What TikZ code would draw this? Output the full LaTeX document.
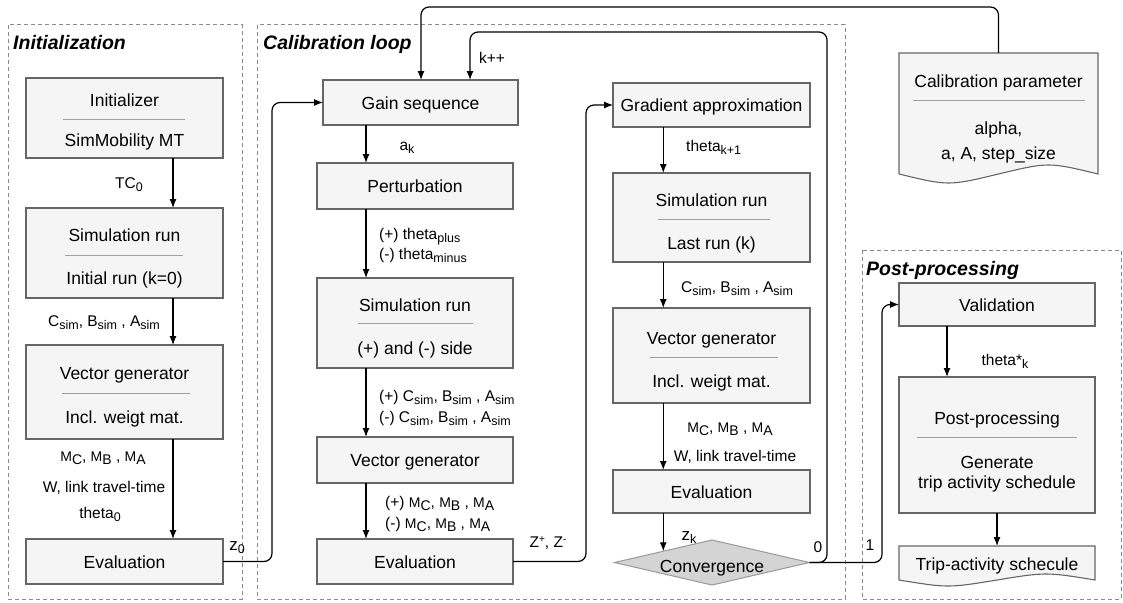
\documentclass[tikz,border=0pt]{standalone}
\usepackage{fontspec}
\setmainfont{Liberation Sans}
\usetikzlibrary{arrows.meta,shapes.geometric,calc}
\definecolor{boxfill}{HTML}{F5F5F5}
\definecolor{boxdraw}{HTML}{666666}
\definecolor{divc}{HTML}{A0A0A0}
\definecolor{dashc}{HTML}{8A8A8A}
\definecolor{diafill}{HTML}{D4D4D4}
\definecolor{diadraw}{HTML}{999999}
\newcommand\sbx[1]{\raisebox{-3pt}{\fontsize{12.5}{12.5}\selectfont #1}}
\newcommand\msb[2]{{\fontsize{14}{14}\selectfont #1\raisebox{-3pt}{#2}}}
\newcommand\spx[1]{\raisebox{5pt}{\fontsize{10}{10}\selectfont #1}}
\begin{document}
\begin{tikzpicture}[x=1pt,y=-1pt,
 box/.style={draw=boxdraw, fill=boxfill, line width=1.1pt, rectangle, inner sep=0pt, outer sep=0pt, anchor=north west},
 ghost/.style={rectangle, inner sep=0pt, outer sep=0pt, anchor=north west},
 docshape/.style={draw=boxdraw, fill=boxfill, line width=1.1pt},
 txt/.style={font=\fontsize{17.5}{21}\selectfont, inner sep=0pt, text height=12.5pt, text depth=0pt},
 lbl/.style={font=\fontsize{15.5}{18}\selectfont, inner sep=0pt, text height=11pt, text depth=0pt},
 ttl/.style={font=\fontsize{19.5}{23}\selectfont\bfseries\itshape, inner sep=0pt, anchor=base west},
 arr/.style={-{Latex[length=9pt,width=7pt]}, line width=1.2pt, rounded corners=8pt},
 dv/.style={draw=divc, line width=1pt},
 grp/.style={draw=dashc, line width=1pt, dash pattern=on 4pt off 3pt}]

\useasboundingbox (0,0) rectangle (1123,602);

% groups
\draw[grp] (8,25) rectangle (242,599);
\draw[grp] (257,25) rectangle (845,599);
\draw[grp] (862,250) rectangle (1121,599);
\node[ttl] (t1) at (13,50) {Initialization};
\node[ttl] (t2) at (263,50) {Calibration loop};
\node[ttl] (t3) at (866,275) {Post-processing};

% left column
\node[box, minimum width=197, minimum height=80] (init) at (26,78) {};
\node[txt] (init1) at (124.5,100) {Initializer};
\draw[dv] (63,119) -- (185,119);
\node[txt] (init2) at (124.5,140) {SimMobility MT};

\node[box, minimum width=197, minimum height=90] (sim0) at (26,208) {};
\node[txt] (sim01) at (124.5,235) {Simulation run};
\draw[dv] (65,255) -- (183,255);
\node[txt] (sim02) at (124.5,278) {Initial run (k=0)};

\node[box, minimum width=197, minimum height=94] (vec0) at (26,345) {};
\node[txt] (vec01) at (124.5,373) {Vector generator};
\draw[dv] (62,393) -- (190,393);
\node[txt] (vec02) at (124.5,417) {Incl. weigt mat.};

\node[box, minimum width=197, minimum height=45] (eval0) at (26,539) {};
\node[txt] (eval01) at (124.5,562) {Evaluation};

% middle column
\node[box, minimum width=195, minimum height=45] (gain) at (323,80) {};
\node[txt] (gain1) at (420.5,103) {Gain sequence};

\node[box, minimum width=196, minimum height=46] (pert) at (317,163) {};
\node[txt] (pert1) at (415,186) {Perturbation};

\node[box, minimum width=196, minimum height=90] (sim1) at (317,278) {};
\node[txt] (sim11) at (415,305) {Simulation run};
\draw[dv] (358,323) -- (473,323);
\node[txt] (sim12) at (415,348) {(+) and (-) side};

\node[box, minimum width=196, minimum height=46] (vec1) at (317,437) {};
\node[txt] (vec11) at (415,460) {Vector generator};

\node[box, minimum width=196, minimum height=45] (eval1) at (317,539) {};
\node[txt] (eval11) at (415,562) {Evaluation};

% right column
\node[box, minimum width=197, minimum height=44] (grad) at (613,83) {};
\node[txt] (grad1) at (711.5,105) {Gradient approximation};

\node[box, minimum width=197, minimum height=89] (sim2) at (613,173) {};
\node[txt] (sim21) at (711.5,200) {Simulation run};
\draw[dv] (658,219) -- (770,219);
\node[txt] (sim22) at (711.5,243) {Last run (k)};

\node[box, minimum width=197, minimum height=95] (vec2) at (613,308) {};
\node[txt] (vec21) at (711.5,338) {Vector generator};
\draw[dv] (650,357) -- (778,357);
\node[txt] (vec22) at (711.5,381) {Incl. weigt mat.};

\node[box, minimum width=197, minimum height=43] (eval2) at (613,470) {};
\node[txt] (eval21) at (711.5,492) {Evaluation};

\node[diamond, aspect=4.33, draw=diadraw, fill=diafill, line width=1pt, minimum width=195, minimum height=45, inner sep=0pt, outer sep=0pt] (conv) at (712,562.5) {};
\node[txt] (conv1) at (712,566) {Convergence};

% calibration parameter (document)
\node[ghost, minimum width=199, minimum height=121] (calib) at (899,53) {};
\draw[docshape] (899,53) -- (1098,53) -- (1098,174) .. controls (1048.5,162) .. (998.5,174) .. controls (948.5,186) .. (899,174) -- cycle;
\node[txt] (calib1) at (998.5,81) {Calibration parameter};
\draw[dv] (913,100) -- (1085,100);
\node[txt] (calib2) at (998.5,128) {alpha,};
\node[txt] (calib3) at (998.5,153) {a, A, step\_size};

% post-processing column
\node[box, minimum width=196, minimum height=43] (valid) at (899,283) {};
\node[txt] (valid1) at (997,305) {Validation};

\node[box, minimum width=196, minimum height=136] (post) at (899,377) {};
\node[txt] (post1) at (997,418) {Post-processing};
\draw[dv] (917,437) -- (1077,437);
\node[txt] (post2) at (997,462) {Generate};
\node[txt] (post3) at (997,482) {trip activity schedule};

\node[ghost, minimum width=196, minimum height=34] (trip) at (899,546) {};
\draw[docshape] (899,546) -- (1095,546) -- (1095,580) .. controls (1046,572) .. (997,580) .. controls (948,588) .. (899,580) -- cycle;
\node[txt] (trip1) at (997,564) {Trip-activity schecule};

% helper coordinates
\coordinate (lx) at (173,0);
\coordinate (mx) at (366,0);
\coordinate (cm) at ($(conv.west)!0.5!(conv.north)$);
\coordinate (px) at (947,0);
\coordinate (l1) at (272,0);
\coordinate (l2) at (586,0);
\coordinate (rr) at (827,0);
\coordinate (kx) at (470,32);
\coordinate (tx) at (421,7);
\coordinate (vx) at (882,0);

% vertical arrows
\draw[arr] (init.south -| lx) -- (sim0.north -| lx);
\draw[arr] (sim0.south -| lx) -- (vec0.north -| lx);
\draw[arr] (vec0.south -| lx) -- (eval0.north -| lx);
\draw[arr] (gain.south -| mx) -- (pert.north -| mx);
\draw[arr] (pert.south -| mx) -- (sim1.north -| mx);
\draw[arr] (sim1.south -| mx) -- (vec1.north -| mx);
\draw[arr] (vec1.south -| mx) -- (eval1.north -| mx);
\draw[arr] (grad.south -| cm) -- (sim2.north -| cm);
\draw[arr] (sim2.south -| cm) -- (vec2.north -| cm);
\draw[arr] (vec2.south -| cm) -- (eval2.north -| cm);
\draw[arr] (eval2.south -| cm) -- (cm);
\draw[arr] (valid.south -| px) -- (post.north -| px);
\draw[arr] (post.south) -- (trip.north);

% loops
\draw[arr] (eval0.east) -- (eval0.east -| l1) -- (l1 |- gain.west) -- (gain.west);
\draw[arr] (eval1.east) -- (eval1.east -| l2) -- (l2 |- grad.west) -- (grad.west);
\draw[arr] (conv.east) -- (conv.east -| rr) -- (rr |- kx) -- (kx) -- (kx |- gain.north);
\draw[arr] (calib.north) -- (calib.north |- tx) -- (tx) -- (tx |- gain.north);
\draw[arr] (conv.east) -- (conv.east -| vx) -- (vx |- valid.west) -- (valid.west);

% labels left
\node[lbl] (a1) at (129,183) {TC\sbx{0}};
\node[lbl] (a2) at (104,321) {C\sbx{sim}, B\sbx{sim} , A\sbx{sim}};
\node[lbl] (a3) at (103,456) {\msb{M}{C}, \msb{M}{B} , \msb{M}{A}};
\node[lbl] (a4) at (104,487) {W, link travel-time};
\node[lbl] (a5) at (100,513) {theta\sbx{0}};
\node[lbl] (a6) at (237,545) {{\fontsize{17}{17}\selectfont z}\sbx{0}};

% labels middle
\node[lbl] (b1) at (407,145) {a\sbx{k}};
\node[lbl, anchor=west] (b2) at (379,234) {(+) theta\sbx{plus}};
\node[lbl, anchor=west] (b3) at (379,254) {(-) theta\sbx{minus}};
\node[lbl, anchor=west] (b4) at (379,396) {(+) C\sbx{sim}, B\sbx{sim} , A\sbx{sim}};
\node[lbl, anchor=west] (b5) at (379,417) {(-) C\sbx{sim}, B\sbx{sim} , A\sbx{sim}};
\node[lbl, anchor=west] (b6) at (385,502) {(+) \msb{M}{C}, \msb{M}{B} , \msb{M}{A}};
\node[lbl, anchor=west] (b7) at (385,523) {(-) \msb{M}{C}, \msb{M}{B} , \msb{M}{A}};
\node[lbl] (b8) at (548,542) {Z\spx{+}, Z\spx{-}};
\node[lbl] (b9) at (492,58) {k++};

% labels right
\node[lbl, anchor=west] (c1) at (686,146) {theta\sbx{k+1}};
\node[lbl, anchor=west] (c2) at (681,287) {C\sbx{sim}, B\sbx{sim} , A\sbx{sim}};
\node[lbl] (c3) at (730,427) {\msb{M}{C}, \msb{M}{B} , \msb{M}{A}};
\node[lbl] (c4) at (735,456) {W, link travel-time};
\node[lbl] (c5) at (689,535) {{\fontsize{17}{17}\selectfont z}\sbx{k}};
\node[lbl] (c6) at (818,547) {0};
\node[lbl] (c7) at (870,545) {1};

% labels post
\node[lbl] (d1) at (1005,360) {theta*\sbx{k}};
\end{tikzpicture}
\end{document}
